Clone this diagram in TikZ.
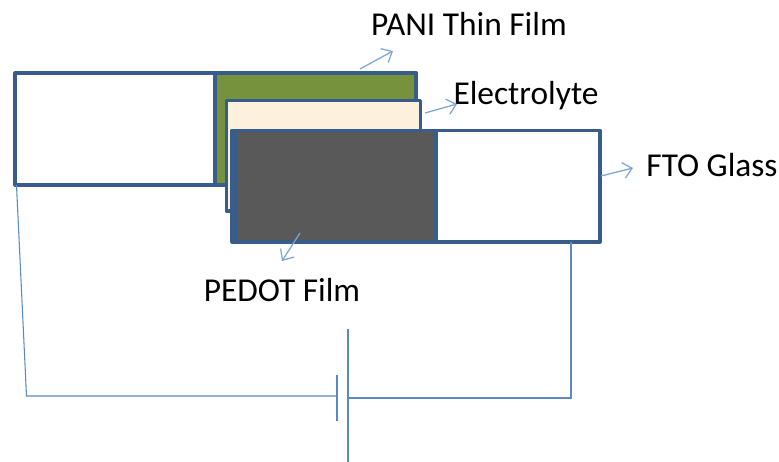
\documentclass[tikz,border=0pt]{standalone}
\usepackage{fontspec}
\setmainfont{Carlito}
\usetikzlibrary{arrows.meta}
\definecolor{plateblue}{HTML}{385D8A}
\definecolor{wireblue}{HTML}{5B88C2}
\definecolor{pointblue}{HTML}{7DA3D3}
\definecolor{panigreen}{HTML}{76923C}
\definecolor{gelcream}{HTML}{FDF1DE}
\definecolor{pedotgrey}{HTML}{595959}
\tikzset{
	plate/.style={draw=plateblue, line width=1.8pt, line join=round},
	wire/.style={color=wireblue, line width=0.6pt},
	pointer/.style={color=pointblue, line width=0.7pt, -{Straight Barb[length=5pt,width=9pt]}},
	caption/.style={font=\fontsize{19}{22}\selectfont, inner sep=0pt}
}

\begin{document}
\begin{tikzpicture}
		%%%%% START %%%%%
		\useasboundingbox (0, 0) rectangle (15.58, 9.24);
		
		\draw[plate, fill=white] (0.3, 7.78) rectangle (8.32, 5.54);
		\draw[plate, fill=panigreen] (4.3, 7.78) rectangle (8.32, 5.54);
		\draw[plate, fill=gelcream] (4.53, 7.23) rectangle (8.41, 5.02);
		\draw[plate, fill=white] (4.64, 6.63) rectangle (12, 4.4);
		\draw[plate, fill=pedotgrey] (4.7, 6.63) rectangle (8.72, 4.4);
		
		\node[caption] (pani) at (9.38, 8.76) {PANI Thin Film};
		\node[caption] (electrolyte) at (10.52, 7.33) {Electrolyte};
		\node[caption] (fto) at (14.24, 5.94) {FTO Glass};
		\node[caption] (pedot) at (5.64, 3.44) {PEDOT Film};
		
		\coordinate (paniStart) at (7.2, 7.86);
		\coordinate (paniEnd) at (7.86, 8.22);
		\coordinate (gelStart) at (8.5, 6.98);
		\coordinate (gelEnd) at (9.14, 7.16);
		\coordinate (ftoStart) at (12.02, 5.72);
		\coordinate (ftoEnd) at (12.66, 5.88);
		\coordinate (pedotStart) at (6, 4.58);
		\coordinate (pedotEnd) at (5.64, 4.02);
		
		\draw[pointer] (paniStart) -- (paniEnd);
		\draw[pointer] (gelStart) -- (gelEnd);
		\draw[pointer] (ftoStart) -- (ftoEnd);
		\draw[pointer] (pedotStart) -- (pedotEnd);
		
		\coordinate (leftTop) at (0.33, 5.54);
		\coordinate (leftCorner) at (0.53, 1.32);
		\coordinate (shortPlate) at (6.74, 1.32);
		\coordinate (shortTop) at (6.74, 1.74);
		\coordinate (shortBottom) at (6.74, 0.82);
		\coordinate (longPlate) at (6.96, 1.28);
		\coordinate (longTop) at (6.96, 2.66);
		\coordinate (longBottom) at (6.96, 0);
		\coordinate (rightCorner) at (11.42, 1.28);
		\coordinate (rightTop) at (11.42, 4.4);
		
		\draw[wire] (leftTop) -- (leftCorner) -- (shortPlate);
		\draw[wire] (shortTop) -- (shortBottom);
		\draw[wire] (longTop) -- (longBottom);
		\draw[wire] (longPlate) -- (rightCorner) -- (rightTop);
		
		%%%%% END %%%%%
	\end{tikzpicture}
\end{document}
